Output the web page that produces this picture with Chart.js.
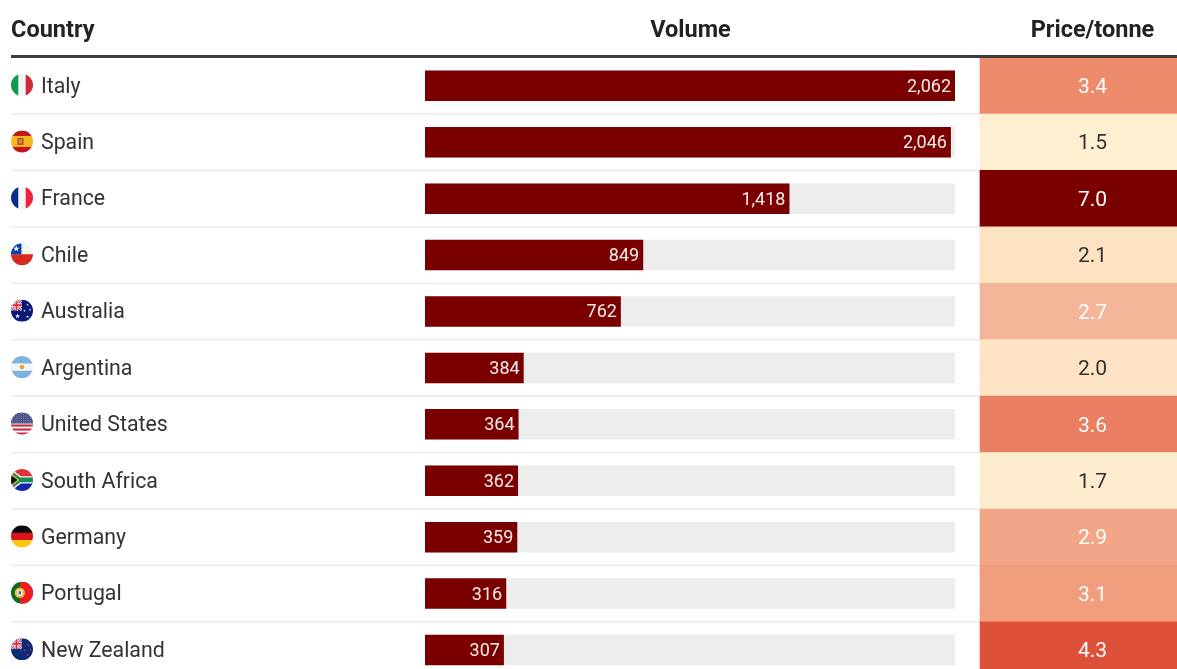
<!DOCTYPE html>
<html>
<head>
<meta charset="utf-8">
<script src="https://cdn.jsdelivr.net/npm/chart.js@4"></script>
<style>
  html, body { margin: 0; padding: 0; background: #fff; overflow: hidden; }
  #frame { width: 1177px; height: 669px; overflow: hidden; position: relative; }
  canvas { display: block; }
</style>
</head>
<body>
<div id="frame"><canvas id="table" width="1205" height="691"></canvas></div>
<script>
const countries = ["Italy", "Spain", "France", "Chile", "Australia", "Argentina", "United States", "South Africa", "Germany", "Portugal", "New Zealand"];
const volumes = [2062, 2046, 1418, 849, 762, 384, 364, 362, 359, 316, 307];
const prices = [3.4, 1.5, 7.0, 2.1, 2.7, 2.0, 3.6, 1.7, 2.9, 3.1, 4.3];
const priceColors = ["#ee8b6d", "#feefd0", "#7a0000", "#fee3c3", "#f5b598", "#fee4c4", "#e97e60", "#feecce", "#f3a587", "#f19e7f", "#dd513a"];
const headers = ["Country", "Volume", "Price/tonne"];

const FONT = "Roboto, sans-serif";
const INK = "#333333";
const BAR = "#7a0000";
const TRACK = "#ededed";
const volumeMax = Math.max(...volumes);
// The volume track fills this share of the plot width; the price column takes the tail.
const trackShare = 530 / 780;
const priceColumn = [555 / 780, 1];

const stripes = (c, r, colors, vertical) => {
  const n = colors.length;
  colors.forEach((col, i) => {
    c.fillStyle = col;
    if (vertical) c.fillRect(-r + 2 * r * i / n, -r, 2 * r / n + 0.5, 2 * r);
    else c.fillRect(-r, -r + 2 * r * i / n, 2 * r, 2 * r / n + 0.5);
  });
};
const star = (c, x, y, s, col) => {
  c.fillStyle = col;
  c.beginPath();
  for (let i = 0; i < 10; i++) {
    const a = -Math.PI / 2 + i * Math.PI / 5, d = i % 2 ? s * 0.42 : s;
    c.lineTo(x + Math.cos(a) * d, y + Math.sin(a) * d);
  }
  c.closePath();
  c.fill();
};
const unionCanton = (c, r, navy, stars) => {
  c.fillStyle = navy;
  c.fillRect(-r, -r, 2 * r, 2 * r);
  c.save();
  c.beginPath();
  c.rect(-r, -r, r, r);
  c.clip();
  c.strokeStyle = "#fff"; c.lineWidth = 2.6;
  c.beginPath();
  c.moveTo(-r, -r); c.lineTo(0, 0); c.moveTo(0, -r); c.lineTo(-r, 0); c.stroke();
  c.strokeStyle = "#d8324a"; c.lineWidth = 1.1; c.stroke();
  c.fillStyle = "#fff";
  c.fillRect(-r, -r / 2 - 1.8, r, 3.6); c.fillRect(-r / 2 - 1.8, -r, 3.6, r);
  c.fillStyle = "#d8324a";
  c.fillRect(-r, -r / 2 - 1, r, 2); c.fillRect(-r / 2 - 1, -r, 2, r);
  c.restore();
  stars.forEach(([x, y, s, col]) => star(c, x, y, s, col));
};
const flagPainters = {
  "Italy": (c, r) => stripes(c, r, ["#0f9a4c", "#f4f4f4", "#ce2b37"], true),
  "Spain": (c, r) => {
    stripes(c, r, ["#c3151b", "#f4b91f", "#f4b91f", "#c3151b"], false);
    c.fillStyle = "#b0522b"; c.fillRect(-4.5, -3.5, 6, 7);
    c.fillStyle = "#d88a3a"; c.fillRect(-3, -2, 3, 4);
  },
  "France": (c, r) => stripes(c, r, ["#0a2b8c", "#f6f6f6", "#f0213c"], true),
  "Chile": (c, r) => {
    stripes(c, r, ["#f4f4f4", "#d9291c"], false);
    c.fillStyle = "#0b3ea8"; c.fillRect(-r, -r, r * 0.95, r);
    star(c, -r * 0.52, -r * 0.5, 3.2, "#fff");
  },
  "Australia": (c, r) => unionCanton(c, r, "#0a1a73", [
    [-4.5, 5.5, 2.4, "#fff"], [5.5, -6, 1.3, "#fff"], [2.5, 0, 1.3, "#fff"],
    [8, -1, 1.3, "#fff"], [5.5, 6, 1.5, "#fff"]
  ]),
  "Argentina": (c, r) => {
    stripes(c, r, ["#78b3e2", "#f5f5f5", "#78b3e2"], false);
    c.fillStyle = "#e5a83a";
    c.beginPath(); c.arc(0, 0, 2.4, 0, Math.PI * 2); c.fill();
  },
  "United States": (c, r) => {
    stripes(c, r, ["#c4293f", "#f6f6f6", "#c4293f", "#f6f6f6", "#c4293f", "#f6f6f6", "#c4293f", "#f6f6f6", "#c4293f", "#f6f6f6", "#c4293f"], false);
    c.fillStyle = "#454f85"; c.fillRect(-r, -r, 2 * r, r);
    c.fillStyle = "#8c92b8";
    for (let y = -r + 1; y < 0; y += 2.2) for (let x = -r + 1; x < r; x += 2.2) c.fillRect(x, y, 1, 1);
  },
  "South Africa": (c, r) => {
    stripes(c, r, ["#e0303a", "#e0303a", "#0e9150", "#1426a8", "#1426a8"], false);
    c.fillStyle = "#f4f4f4";
    c.beginPath(); c.moveTo(-r, -r); c.lineTo(-1, -3.6); c.lineTo(r, -3.6); c.lineTo(r, 3.6); c.lineTo(-1, 3.6); c.lineTo(-r, r); c.closePath(); c.fill();
    c.fillStyle = "#0e9150";
    c.beginPath(); c.moveTo(-r, -r + 1.6); c.lineTo(-2, -2.4); c.lineTo(r, -2.4); c.lineTo(r, 2.4); c.lineTo(-2, 2.4); c.lineTo(-r, r - 1.6); c.closePath(); c.fill();
    c.fillStyle = "#f4b81f";
    c.beginPath(); c.moveTo(-r, -7); c.lineTo(-2.6, 0); c.lineTo(-r, 7); c.closePath(); c.fill();
    c.fillStyle = "#111";
    c.beginPath(); c.moveTo(-r, -5); c.lineTo(-4.5, 0); c.lineTo(-r, 5); c.closePath(); c.fill();
  },
  "Germany": (c, r) => stripes(c, r, ["#0a0a0a", "#d9141c", "#fbc80f"], false),
  "Portugal": (c, r) => {
    c.fillStyle = "#0a6a1e"; c.fillRect(-r, -r, 2 * r, 2 * r);
    c.fillStyle = "#ee1c25"; c.fillRect(-r * 0.2, -r, 2 * r, 2 * r);
    c.fillStyle = "#e3b92f"; c.beginPath(); c.arc(-r * 0.2, 0, 5.2, 0, Math.PI * 2); c.fill();
    c.fillStyle = "#f0f0f0"; c.fillRect(-r * 0.2 - 2.6, -3, 5.2, 6);
    c.fillStyle = "#4a63a8"; c.fillRect(-r * 0.2 - 1.2, -1.6, 2.4, 3.2);
  },
  "New Zealand": (c, r) => unionCanton(c, r, "#0a2a78", [
    [6, -4, 1.4, "#d8324a"], [3, 1, 1.4, "#d8324a"], [8.5, 0.5, 1.3, "#d8324a"], [5.5, 6, 1.5, "#d8324a"]
  ])
};

// Header row, heavy rule, row separators and the flag badges.
const tableFrame = {
  id: "tableFrame",
  beforeDatasetsDraw(chart) {
    const { ctx, scales: { y }, chartArea } = chart;
    ctx.save();
    ctx.fillStyle = "#efefef";
    for (let i = 1; i < countries.length; i++) {
      const edge = (y.getPixelForTick(i - 1) + y.getPixelForTick(i)) / 2;
      ctx.fillRect(11, edge - 1, chartArea.right - 11, 2);
    }
    ctx.restore();
  },
  afterDatasetsDraw(chart) {
    const { ctx, scales: { y, x, xCell }, chartArea } = chart;
    ctx.save();
    ctx.fillStyle = "#3c3c3c";
    ctx.fillRect(11, 55, chartArea.right - 11, 3);

    ctx.fillStyle = "#222222";
    ctx.font = `700 23.5px ${FONT}`;
    ctx.textBaseline = "middle";
    ctx.textAlign = "left";
    ctx.fillText(headers[0], 11, 31.5);
    ctx.textAlign = "center";
    ctx.fillText(headers[1], x.getPixelForValue(volumeMax / 2) + 0.5, 31.5);
    ctx.fillText(headers[2], xCell.getPixelForValue((priceColumn[0] + priceColumn[1]) / 2), 31.5);

    countries.forEach((name, i) => {
      const cy = y.getPixelForTick(i);
      ctx.save();
      ctx.translate(22, cy - 0.8);
      ctx.beginPath();
      ctx.arc(0, 0, 11, 0, Math.PI * 2);
      ctx.clip();
      flagPainters[name](ctx, 11);
      ctx.restore();
    });

    ctx.textBaseline = "middle";
    ctx.textAlign = "right";
    ctx.font = `400 18px ${FONT}`;
    ctx.fillStyle = "#f6ecec";
    volumes.forEach((v, i) => {
      ctx.fillText(v.toLocaleString("en-US"), x.getPixelForValue(v) - 4, y.getPixelForTick(i) + 1.5);
    });

    ctx.textAlign = "center";
    ctx.font = `400 21px ${FONT}`;
    prices.forEach((p, i) => {
      ctx.fillStyle = p >= 2.5 ? "#ffffff" : INK;
      ctx.fillText(p.toFixed(1), xCell.getPixelForValue((priceColumn[0] + priceColumn[1]) / 2), y.getPixelForTick(i) + 2);
    });
    ctx.restore();
  }
};

new Chart(document.getElementById("table"), {
  type: "bar",
  plugins: [tableFrame],
  data: {
    labels: countries,
    datasets: [
      {
        label: "Volume", data: volumes, xAxisID: "x", backgroundColor: BAR,
        order: 1, grouped: false, barPercentage: 0.54, categoryPercentage: 1
      },
      {
        label: "Track", data: volumes.map(() => volumeMax), xAxisID: "x", backgroundColor: TRACK,
        order: 2, grouped: false, barPercentage: 0.54, categoryPercentage: 1
      },
      {
        label: "Price/tonne", data: prices.map(() => priceColumn), xAxisID: "xCell", backgroundColor: priceColors,
        order: 3, grouped: false, barPercentage: 1, categoryPercentage: 1
      }
    ]
  },
  options: {
    indexAxis: "y",
    responsive: false,
    animation: false,
    devicePixelRatio: 1,
    layout: { padding: { left: 41, top: 57.6, right: 0, bottom: 0 } },
    plugins: { legend: { display: false }, tooltip: { enabled: false } },
    scales: {
      y: {
        type: "category",
        grid: { display: false },
        border: { display: false },
        afterFit(scale) { scale.width = 384; },
        ticks: {
          crossAlign: "far",
          padding: 0,
          labelOffset: 1.5,
          color: INK,
          font: { family: FONT, size: 21.3, weight: "400" }
        }
      },
      x: { type: "linear", display: false, min: 0, max: volumeMax / trackShare },
      xCell: { type: "linear", display: false, min: 0, max: 1 }
    }
  }
});
</script>
</body>
</html>
